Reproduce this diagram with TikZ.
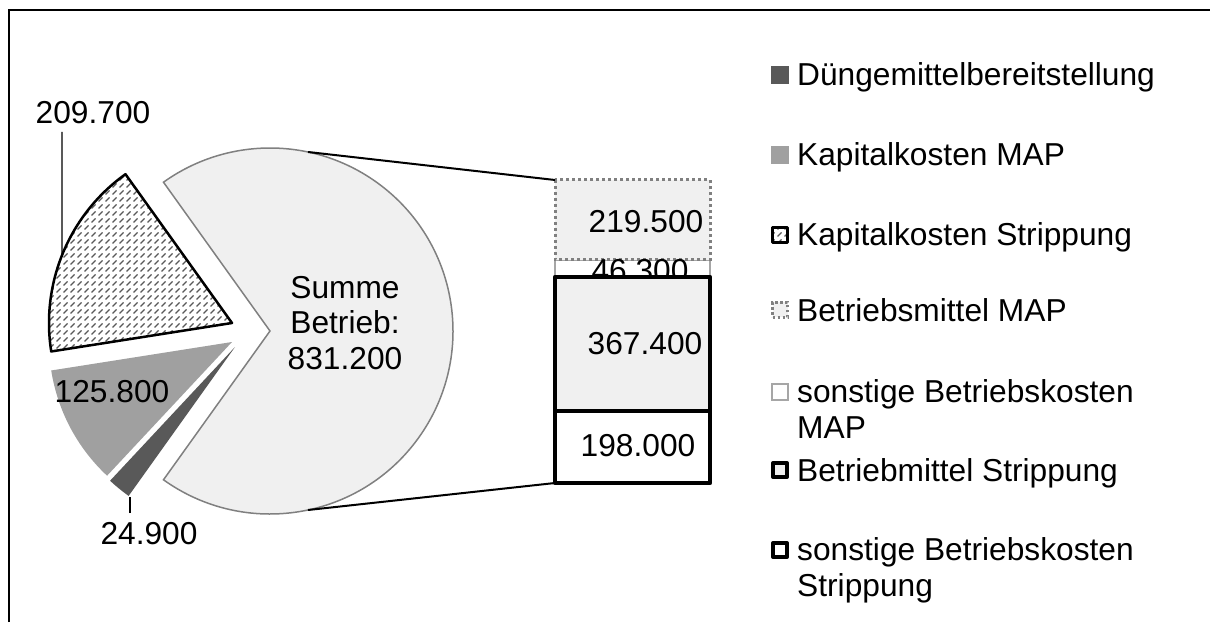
\documentclass[tikz,border=0pt]{standalone}
\usepackage{fontspec}
\setmainfont{Liberation Sans}
\usetikzlibrary{patterns,calc}
\definecolor{hell}{HTML}{F0F0F0}
\definecolor{mittel}{HTML}{A0A0A0}
\definecolor{dunkel}{HTML}{595959}
\definecolor{rand}{HTML}{808080}
\pgfdeclarepatternformonly{strichel}{\pgfqpoint{-1pt}{-1pt}}{\pgfqpoint{8pt}{8pt}}{\pgfqpoint{7pt}{7pt}}{%
  \pgfsetlinewidth{1.1pt}%
  \pgfpathmoveto{\pgfqpoint{0.5pt}{0.5pt}}\pgfpathlineto{\pgfqpoint{4.5pt}{4.5pt}}\pgfusepath{stroke}}
\begin{document}
\begin{tikzpicture}[x=1pt,y=1pt]
	\tikzstyle{wert} = [font=\fontsize{31.7}{35.5}\selectfont, inner sep=0pt, anchor=base]
	\tikzstyle{leg} = [wert, anchor=base west, align=left]
	\tikzstyle{mk} = [minimum size=18pt, inner sep=0pt]
	\tikzstyle{verb} = [line width=2pt]
	\tikzstyle{leit} = [line width=1.2pt]
	\tikzstyle{kstr} = [draw=black, line width=2.5pt, line join=round, pattern=strichel, pattern color=dunkel]
	\tikzstyle{bmap} = [draw=rand, fill=hell, line width=3pt, dash pattern=on 3pt off 3pt]
	\tikzstyle{smap} = [draw=rand!70, fill=white, line width=1.2pt]
	\tikzstyle{bstr} = [draw=black, fill=hell, line width=4.5pt, line join=round]
	\tikzstyle{sstr} = [draw=black, fill=white, line width=4.5pt, line join=round]
	\useasboundingbox (0,0) rectangle (1210,622);
	\draw[line width=2pt] (9,0) -- (9,612) -- (1210,612);

	% Kreis
	\coordinate (C) at (270,291);
	\coordinate (v1) at (232,299);
	\coordinate (v2) at (232,280);
	\coordinate (v3) at (235,275);
	\draw[draw=rand, line width=1.5pt, fill=hell] (C) -- ++(-125.6:183) arc[start angle=-125.6, end angle=125.6, radius=183pt] -- cycle;
	\draw[kstr] (v1) -- ++(125.6:183) arc[start angle=125.6, end angle=188.95, radius=183pt] -- cycle;
	\fill[mittel] (v2) -- ++(188.95:183) arc[start angle=188.95, end angle=226.95, radius=183pt] -- cycle;
	\fill[dunkel] (v3) -- ++(226.95:183) arc[start angle=226.95, end angle=234.47, radius=183pt] -- cycle;

	\node[wert] (summe) at (345,253) [align=center] {Summe\\Betrieb:\\831.200};
	\node[wert] (w1) at (93,498) {209.700};
	\coordinate (q1) at (62,490);
	\coordinate (p1) at ($(v1)+(158.3:183)$);
	\draw[leit] (q1) -- (p1);
	\node[wert] (w2) at (112,220) {125.800};
	\node[wert] (w3) at (149,78) {24.900};
	\coordinate (q3) at (130,109);
	\coordinate (p3) at (130,125);
	\draw[leit] (q3) -- (p3);

	% Balken
	\coordinate (b0) at (555,442);
	\coordinate (b4) at (555,139);
	\coordinate (b5) at (710,139);
	\draw[smap] (555,362) rectangle (710,345.1);
	\draw[bmap] (b0) rectangle (710,362);
	\node[wert] (t1) at (646,389) {219.500};
	\node[wert] (t2) at (640,340) {46.300};
	\draw[bstr] (555,345.1) rectangle (710,211.2);
	\node[wert] (t3) at (645,268) {367.400};
	\draw[sstr] (555,211.2) rectangle (b5);
	\node[wert] (t4) at (638,166) {198.000};

	\coordinate (ao) at ($(C)+(78:183)$);
	\coordinate (au) at ($(C)+(-78:183)$);
	\draw[verb] (ao) -- (b0);
	\draw[verb] (au) -- (b4);

	% Legende
	\node[mk, fill=dunkel] (m1) at (780,547) {};
	\node[leg] (l1) at (797,536) {Düngemittelbereitstellung};
	\node[mk, fill=mittel] (m2) at (780,467) {};
	\node[leg] (l2) at (797,456) {Kapitalkosten MAP};
	\node[mk, kstr, line width=2.5pt, minimum size=15pt] (m3) at (780,387) {};
	\node[leg] (l3) at (797,376) {Kapitalkosten Strippung};
	\node[mk, bmap, line width=2.5pt, dash pattern=on 2.5pt off 2.5pt, minimum size=15pt] (m4) at (780,312) {};
	\node[leg] (l4) at (797,301) {Betriebsmittel MAP};
	\node[mk, smap, minimum size=16pt] (m5) at (780,230) {};
	\node[leg] (l5) at (797,184) {sonstige Betriebskosten\\MAP};
	\node[mk, bstr, line width=4pt, minimum size=14pt] (m6) at (780,152) {};
	\node[leg] (l6) at (797,141) {Betriebmittel Strippung};
	\node[mk, sstr, line width=4pt, minimum size=14pt] (m7) at (780,72) {};
	\node[leg] (l7) at (797,26) {sonstige Betriebskosten\\Strippung};
\end{tikzpicture}
\end{document}
